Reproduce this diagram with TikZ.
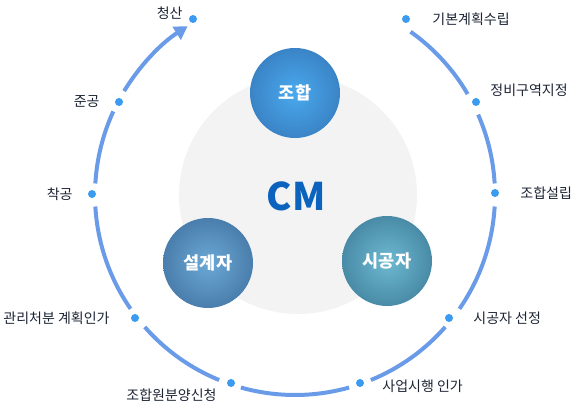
\documentclass[tikz,border=0pt]{standalone}
\usepackage{fontspec}
\setmainfont{Noto Sans CJK KR}
\usetikzlibrary{
  arrows.meta,
  positioning,
  calc
}
\definecolor{cmring}{HTML}{6A9BE8}
\definecolor{cmdot}{HTML}{3B9BF0}
\definecolor{cmtext}{HTML}{1C2434}
\definecolor{cmblue}{HTML}{0B63BD}
\definecolor{cmgray}{HTML}{F3F3F3}
\definecolor{associn}{HTML}{4AA9EE}
\definecolor{assocout}{HTML}{3A84C6}
\definecolor{designin}{HTML}{6BA8D6}
\definecolor{designout}{HTML}{4A7EAC}
\definecolor{buildin}{HTML}{6DB9D2}
\definecolor{buildout}{HTML}{498BA6}

\begin{document}
\begin{tikzpicture}[x=1pt, y=1pt,
      dot/.style={circle, fill=cmdot, inner sep=0pt, minimum size=8pt},
      stage/.style={font=\fontsize{14}{16}\selectfont, text=cmtext, inner sep=0pt},
      ring/.style={line width=4pt, cmring},
      party/.style={
        circle, minimum size=90pt, inner sep=0pt, shading=radial,
        font=\fontsize{17.5}{19}\selectfont\bfseries, text=white
      }
    ]
      \useasboundingbox (0,0) rectangle (573,403);
      \coordinate (c) at (295,208);
      \node[circle, fill=cmgray, minimum size=238pt, inner sep=0pt] (bg) at (298,208) {};

      % process ring
      \foreach \a/\b in {54.7/30.3, 23.7/3.3, -3.3/-34.7, -41.3/-67.7, -74.3/-105.7,
                         -112.3/-138.7, -145.3/-176.7, 176.7/155.3}
        \draw[ring] ($(c)+(\a:200)$) arc[start angle=\a, end angle=\b, radius=200];
      \draw[ring, -{Triangle[length=13pt, width=15pt]}]
        ($(c)+(148.7:200)$) arc[start angle=148.7, end angle=122.5, radius=200];

      \node[dot] (dplan) at (406,384) {};
      \node[dot] (dzone) at (476,301) {};
      \node[dot] (dfound) at (495,210) {};
      \node[dot] (dselect) at (449,85) {};
      \node[dot] (dpermit) at (360,20) {};
      \node[dot] (dapply) at (231,20) {};
      \node[dot] (dmanage) at (135,85) {};
      \node[dot] (dstart) at (92,209) {};
      \node[dot] (dfinish) at (119,301) {};
      \node[dot] (dsettle) at (193,384) {};

      \node[stage, right=22pt of dplan] {기본계획수립};
      \node[stage, right=10pt of dzone, yshift=12pt] {정비구역지정};
      \node[stage, right=21pt of dfound] {조합설립};
      \node[stage, right=20pt of dselect] {시공자 선정};
      \node[stage, right=18pt of dpermit, yshift=-3pt] {사업시행 인가};
      \node[stage, left=10pt of dapply, yshift=-12pt] {조합원분양신청};
      \node[stage, left=21pt of dmanage] {관리처분 계획인가};
      \node[stage, left=15pt of dstart] {착공};
      \node[stage, left=15pt of dfinish] {준공};
      \node[stage, left=6pt of dsettle, yshift=6pt] {청산};

      % parties
      \node[party, inner color=associn, outer color=assocout] (assoc) at (295,310) {조합};
      \node[party, inner color=designin, outer color=designout] (designer) at (208,140) {설계자};
      \node[party, inner color=buildin, outer color=buildout] (builder) at (387,142) {시공자};

      \node[font=\fontsize{38}{40}\selectfont\bfseries, text=cmblue] (cm) at (296,207) {CM};
    \end{tikzpicture}
\end{document}
